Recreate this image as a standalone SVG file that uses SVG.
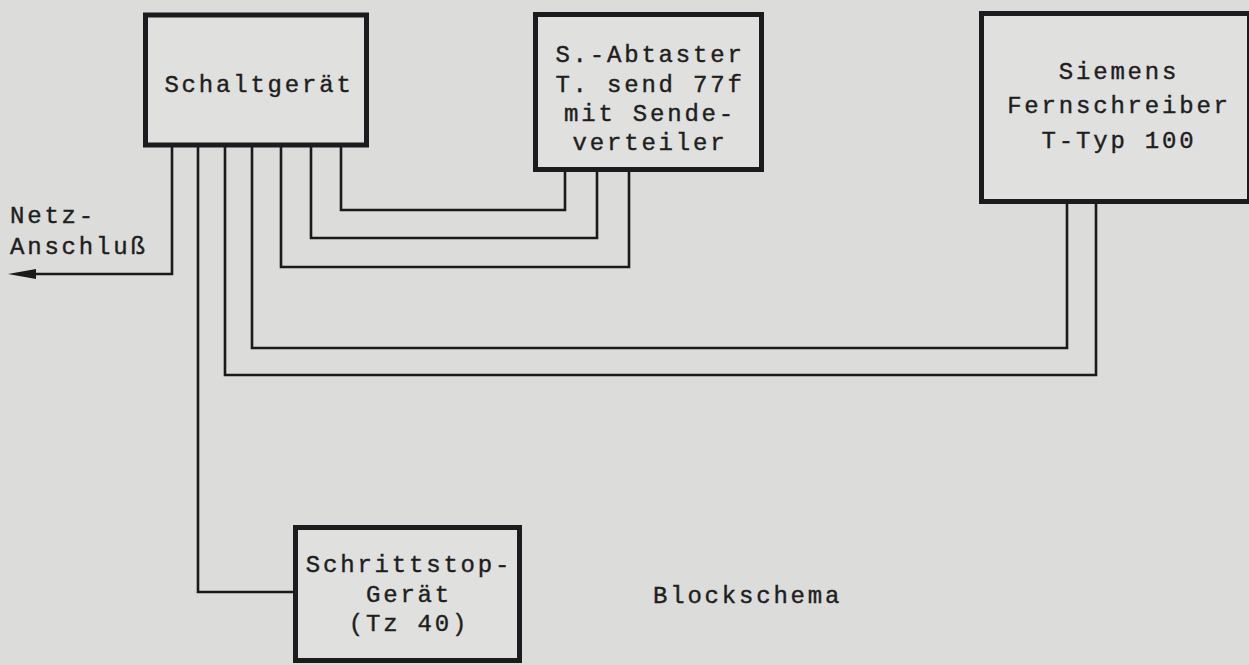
<svg xmlns="http://www.w3.org/2000/svg" width="1249" height="665" viewBox="0 0 1249 665">
<style>
.box{fill:#e0e0de;stroke:#1c1c1e;stroke-width:5}
.ln{fill:none;stroke:#1a1a1a;stroke-width:2.6;stroke-linejoin:miter}
.t{font-family:"Liberation Mono","DejaVu Sans Mono",monospace;font-size:24px;letter-spacing:2.8px;fill:#1e1e1e;stroke:#1e1e1e;stroke-width:0.4;text-anchor:middle}
.tl{font-family:"Liberation Mono","DejaVu Sans Mono",monospace;font-size:24px;letter-spacing:2.8px;fill:#1e1e1e;stroke:#1e1e1e;stroke-width:0.4}
</style>
<rect width="1249" height="665" fill="#dcdcda"/>
<g id="connectors">
<path class="ln" d="M172,147 V274 H34"/>
<path d="M8,274 L36,269 L36,279 Z" fill="#1a1a1a"/>
<path class="ln" d="M341,147 V210 H565 V172"/>
<path class="ln" d="M311,147 V238 H597 V172"/>
<path class="ln" d="M281,147 V267 H629 V172"/>
<path class="ln" d="M252,147 V348 H1067 V204"/>
<path class="ln" d="M225,147 V375 H1096 V204"/>
<path class="ln" d="M198,147 V592 H295"/>
</g>
<g id="schaltgeraet">
<rect class="box" x="145.5" y="15" width="221" height="130"/>
<text class="t" x="259" y="92">Schaltgerät</text>
</g>
<g id="abtaster">
<rect class="box" x="535.5" y="14.5" width="226" height="155"/>
<text class="t" x="650" y="62">S.-Abtaster</text>
<text class="t" x="650" y="92">T. send 77f</text>
<text class="t" x="650" y="121">mit Sende-</text>
<text class="t" x="650" y="150">verteiler</text>
</g>
<g id="siemens">
<rect class="box" x="981.5" y="13.5" width="268" height="188"/>
<text class="t" x="1119" y="79">Siemens</text>
<text class="t" x="1119" y="113">Fernschreiber</text>
<text class="t" x="1119" y="148">T-Typ 100</text>
</g>
<g id="schrittstop">
<rect class="box" x="295.5" y="527.5" width="224" height="133"/>
<text class="t" x="409" y="572">Schrittstop-</text>
<text class="t" x="409" y="602">Gerät</text>
<text class="t" x="409" y="631">(Tz 40)</text>
</g>
<g id="netz">
<text class="tl" x="10" y="223">Netz-</text>
<text class="tl" x="10" y="254">Anschluß</text>
</g>
<g id="caption">
<text class="tl" x="653" y="603">Blockschema</text>
</g>
</svg>
